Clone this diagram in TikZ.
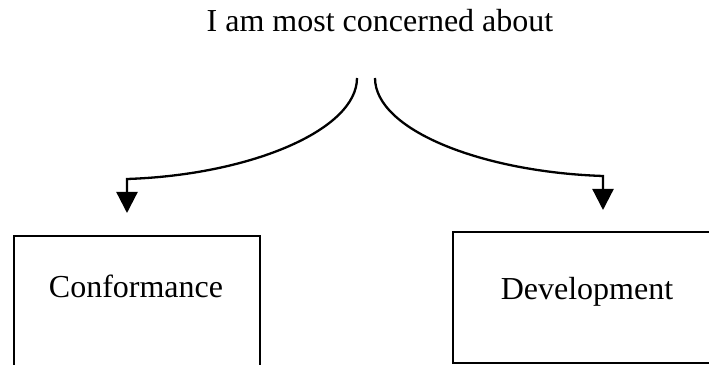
\documentclass[tikz,border=0pt]{standalone}
\usepackage{fontspec}
\setmainfont{Liberation Serif}
\usetikzlibrary{arrows.meta}
\begin{document}
\begin{tikzpicture}[x=1pt,y=1pt,
  conn/.style={line width=2.3pt, -{Triangle[width=21pt,length=21pt]}},
  boxnode/.style={draw, line width=2.2pt, rectangle, inner sep=0pt, anchor=north west},
  lbl/.style={font=\fontsize{32}{38}\selectfont, anchor=base, inner sep=0pt}]
\useasboundingbox (0,0) rectangle (709,364);
\clip (0,0) rectangle (709,364);
\node[lbl] (title) at (380,332) {I am most concerned about};
\node[boxnode, minimum width=246pt, minimum height=160pt] (cbox) at (12.7,129) {};
\node[boxnode, minimum width=300pt, minimum height=131pt] (dbox) at (452,133) {};
\node[lbl] (conf) at (136,66) {Conformance};
\node[lbl] (dev) at (587,64) {Development};
\coordinate (ls) at (357,286);
\coordinate (lc) at (127,185);
\coordinate (lt) at (127,151);
\coordinate (rs) at (375,286);
\coordinate (rc) at (603,188);
\coordinate (rt) at (603,154);
\draw[conn] (ls) .. controls (357,234) and (250,189) .. (lc) -- (lt);
\draw[conn] (rs) .. controls (375,234) and (482,192) .. (rc) -- (rt);
\end{tikzpicture}
\end{document}
